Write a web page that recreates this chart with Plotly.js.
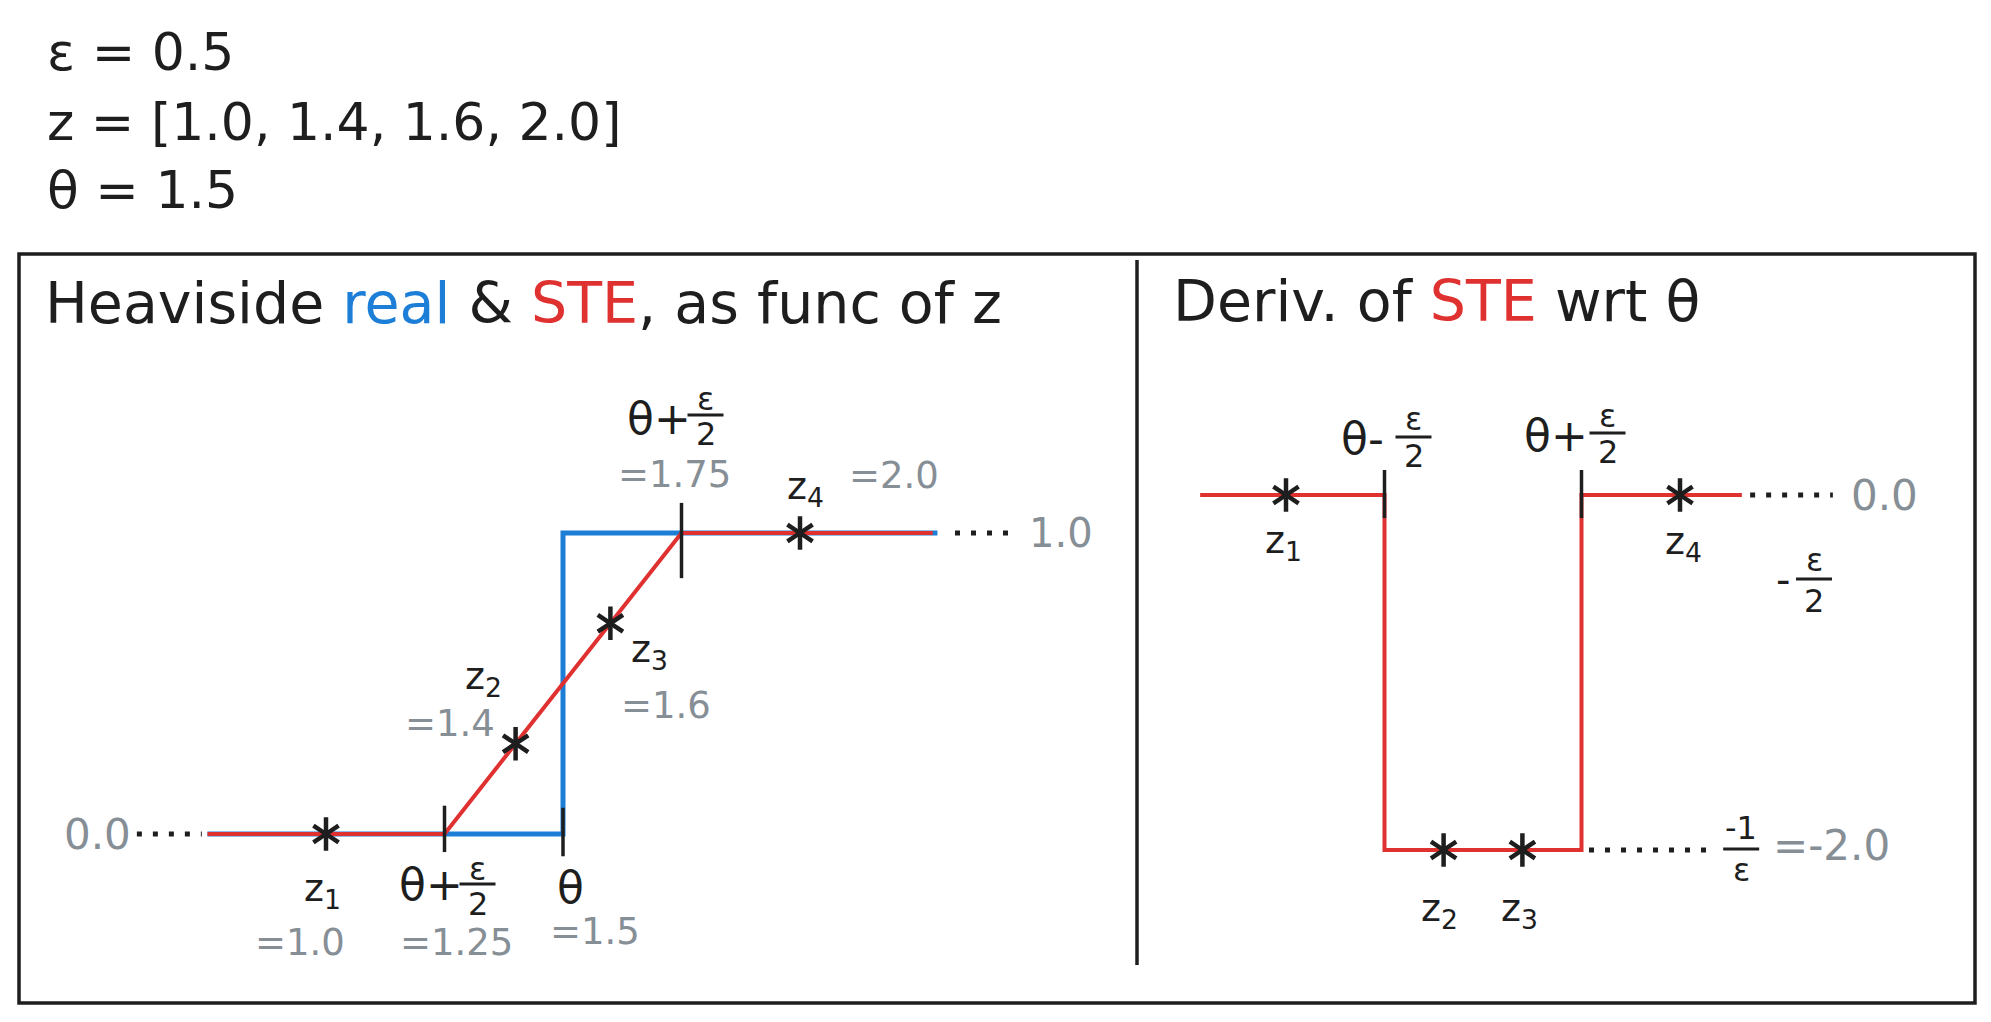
<!DOCTYPE html>
<html><head><meta charset="utf-8">
<script src="https://cdn.plot.ly/plotly-3.0.1.min.js"></script>
<style>html,body{margin:0;padding:0;background:#fff}</style>
</head><body><div id="chart" style="width:1991px;height:1022px"></div>
<script>
// ---------------- data ----------------
const eps = 0.5;
const theta = 1.5;
const zVals = [1.0, 1.4, 1.6, 2.0];
const zNames = ['z<sub>1</sub>', 'z<sub>2</sub>', 'z<sub>3</sub>', 'z<sub>4</sub>'];

// left panel: Heaviside (real) and STE as function of z
const heavX = [0.75, 1.5, 1.5, 2.29];
const heavY = [0, 0, 1, 1];
const steX = [0.75, 1.25, 1.75, 2.28];
const steY = [0, 0, 1, 1];
const steAtZ = [0, 0.3, 0.7, 1.0];
const leftTickX = [1.25, 1.5, 1.75];
const leftTickLo = [-0.06, -0.074, 0.85];
const leftTickHi = [0.094, 0.087, 1.10];
const leftLeadX = [[0.601, 0.738], [2.327, 2.462]];
const leftLeadY = [0, 1];
const leftLevelLabels = ['0.0', '1.0'];

// right panel: derivative of STE wrt theta
const dSteX = [0.782, 1.25, 1.25, 1.75, 1.75, 2.157];
const dSteY = [0, 0, -2, -2, 0, 0];
const dSteAtZ = [0, -2, -2, 0];
const rightTickX = [1.25, 1.75];
const rightTickLo = [-0.13, -0.13];
const rightTickHi = [0.141, 0.141];
const rightLeadX = [[2.178, 2.388], [1.769, 2.069]];
const rightLeadY = [0, -2];
const rightLevelLabels = ['0.0', '=-2.0'];

// ---------------- style / layout ----------------
const W = 1991, H = 1022;
const FONT = '"DejaVu Sans", sans-serif';
const BLACK = '#1e1e1e', GRAY = '#868e96', RED = '#e03131', BLUE = '#1c7ed6';
const LAX = ['x', 'y'], RAX = ['x2', 'y2'];

function xr(dom, pxC, vC, slope) { return [vC + (dom[0] * W - pxC) / slope, vC + (dom[1] * W - pxC) / slope]; }
function yr(py0, slope) { return [(py0 - H) / slope, py0 / slope]; }
const LDOM = [0, 0.57], RDOM = [0.57, 1];

function fmt(v) { return Number.isInteger(Math.round(v * 1000) / 100) ? v.toFixed(1) : v.toFixed(2); }

const traces = [];
function ax(a) { return {xaxis: a[0], yaxis: a[1]}; }
function segTrace(a, xs, lo, hi, color, width) {
  const X = [], Y = [];
  xs.forEach((x, i) => { X.push(x, x, null); Y.push(lo[i], hi[i], null); });
  return Object.assign({x: X, y: Y, mode: 'lines', line: {color, width}, hoverinfo: 'skip'}, ax(a));
}
function leaders(a, xs, ys) {
  const X = [], Y = [];
  xs.forEach((p, i) => { X.push(p[0], p[1], null); Y.push(ys[i], ys[i], null); });
  return Object.assign({x: X, y: Y, mode: 'lines', line: {color: BLACK, width: 5, dash: '5px,11px'}, hoverinfo: 'skip'}, ax(a));
}
function stars(a, xs, ys) {
  return ['y-up-open', 'y-down-open'].map(s => Object.assign({
    x: xs, y: ys, mode: 'markers', hoverinfo: 'skip', cliponaxis: false,
    marker: {symbol: s, size: 21, color: BLACK, line: {color: BLACK, width: 4.5}}
  }, ax(a)));
}

// left
traces.push(Object.assign({x: heavX, y: heavY, mode: 'lines', line: {color: BLUE, width: 5}, hoverinfo: 'skip'}, ax(LAX)));
traces.push(Object.assign({x: steX, y: steY, mode: 'lines', line: {color: RED, width: 4}, hoverinfo: 'skip'}, ax(LAX)));
traces.push(leaders(LAX, leftLeadX, leftLeadY));
traces.push(segTrace(LAX, leftTickX, leftTickLo, leftTickHi, BLACK, 3.5));
traces.push(...stars(LAX, zVals, steAtZ));
// right
traces.push(Object.assign({x: dSteX, y: dSteY, mode: 'lines', line: {color: RED, width: 4}, hoverinfo: 'skip'}, ax(RAX)));
traces.push(leaders(RAX, rightLeadX, rightLeadY));
traces.push(segTrace(RAX, rightTickX, rightTickLo, rightTickHi, BLACK, 3.5));
traces.push(...stars(RAX, zVals, dSteAtZ));

const annotations = [], shapes = [];
function lab(a, x, y, text, dx, dy, size, color, xanchor) {
  annotations.push({xref: a[0], yref: a[1], x, y, text, showarrow: false, xshift: dx, yshift: dy,
    xanchor: xanchor || 'center', yanchor: 'middle', font: {family: FONT, size, color}});
}
function frac(a, x, y, num, den, dx, dyNum, dyBar, dyDen) {
  lab(a, x, y, num, dx, dyNum, 32, BLACK);
  lab(a, x, y, den, dx, dyDen, 32, BLACK);
  shapes.push({type: 'line', xref: a[0], yref: a[1], xsizemode: 'pixel', ysizemode: 'pixel',
    xanchor: x, yanchor: y, x0: dx - 18, x1: dx + 18, y0: dyBar, y1: dyBar, line: {color: BLACK, width: 3}});
}
function paper(text, px, py, size, xanchor) {
  annotations.push({xref: 'paper', yref: 'paper', x: px / W, y: 1 - py / H, text, showarrow: false,
    xanchor: xanchor || 'left', yanchor: 'middle', font: {family: FONT, size, color: BLACK}});
}

// top-left definitions
paper('ε = ' + eps.toFixed(1), 45, 52, 52);
paper('z = [' + zVals.map(v => v.toFixed(1)).join(', ') + ']', 45, 122, 52);
paper('θ = ' + theta.toFixed(1), 45, 190, 52);
// panel titles
paper('Heaviside <span style="color:' + BLUE + '">real</span> &amp; <span style="color:' + RED + '">STE</span>, as func of z', 43, 303, 57);
paper('Deriv. of <span style="color:' + RED + '">STE</span> wrt θ', 1171, 301, 57);

// left panel labels
const lzOff = [[-4, -56], [-32, 65], [39, -28], [5, 45]];
const lvOff = [[-26, -108], [-66, 20], [56, -82], [94, 58]];
zVals.forEach((z, i) => {
  lab(LAX, z, steAtZ[i], zNames[i], lzOff[i][0], lzOff[i][1], 38, BLACK);
  lab(LAX, z, steAtZ[i], '=' + fmt(z), lvOff[i][0], lvOff[i][1], 37, GRAY);
});
// tick at theta - eps/2 (labelled as in the original)
lab(LAX, leftTickX[0], 0, 'θ+', -14, -50, 44, BLACK);
frac(LAX, leftTickX[0], 0, 'ε', '2', 33, -35, -50, -70);
lab(LAX, leftTickX[0], 0, '=' + fmt(leftTickX[0]), 12, -108, 37, GRAY);
// tick at theta
lab(LAX, leftTickX[1], 0, 'θ', 7, -53, 44, BLACK);
lab(LAX, leftTickX[1], 0, '=' + fmt(leftTickX[1]), 32, -97, 37, GRAY);
// tick at theta + eps/2
lab(LAX, leftTickX[2], 1, 'θ+', -23, 115, 44, BLACK);
frac(LAX, leftTickX[2], 1, 'ε', '2', 24, 134, 118, 99);
lab(LAX, leftTickX[2], 1, '=' + fmt(leftTickX[2]), -7, 59, 37, GRAY);
// level labels
lab(LAX, leftLeadX[0][0], leftLeadY[0], leftLevelLabels[0], -4, 0, 42, GRAY, 'right');
lab(LAX, leftLeadX[1][1], leftLeadY[1], leftLevelLabels[1], 8, 0, 40, GRAY, 'left');

// right panel labels
const rzOff = [[-3, -47], [-4, -60], [-3, -60], [3, -48]];
zVals.forEach((z, i) => lab(RAX, z, dSteAtZ[i], zNames[i], rzOff[i][0], rzOff[i][1], 38, BLACK));
lab(RAX, rightTickX[0], 0, 'θ-', -22, 57, 44, BLACK);
frac(RAX, rightTickX[0], 0, 'ε', '2', 29, 76, 58, 39);
lab(RAX, rightTickX[1], 0, 'θ+', -26, 60, 44, BLACK);
frac(RAX, rightTickX[1], 0, 'ε', '2', 26, 79, 62, 43);
// stray "-eps/2" note near z4
lab(RAX, zVals[3], dSteAtZ[3], '-', 103, -85, 40, BLACK);
frac(RAX, zVals[3], dSteAtZ[3], 'ε', '2', 134, -65, -84, -106);
// level labels
lab(RAX, rightLeadX[0][1], rightLeadY[0], rightLevelLabels[0], 16, 0, 42, GRAY, 'left');
frac(RAX, rightLeadX[1][1], rightLeadY[1], '-1', 'ε', 34, 22, 1, -20);
lab(RAX, rightLeadX[1][1], rightLeadY[1], rightLevelLabels[1], 64, 5, 42, GRAY, 'left');

// frame
shapes.push({type: 'rect', xref: 'paper', yref: 'paper', x0: 19 / W, x1: 1975 / W, y0: 1 - 1003 / H, y1: 1 - 254 / H,
  line: {color: BLACK, width: 3.5}, fillcolor: 'rgba(0,0,0,0)'});
shapes.push({type: 'line', xref: 'paper', yref: 'paper', x0: 1137 / W, x1: 1137 / W, y0: 1 - 965 / H, y1: 1 - 260 / H,
  line: {color: BLACK, width: 3.5}});

const hidden = {visible: false, showgrid: false, zeroline: false, fixedrange: true};
const layout = {
  width: W, height: H, margin: {l: 0, r: 0, t: 0, b: 0}, showlegend: false,
  paper_bgcolor: '#ffffff', plot_bgcolor: 'rgba(0,0,0,0)',
  xaxis: Object.assign({domain: LDOM, range: xr(LDOM, 563, 1.5, 474)}, hidden),
  yaxis: Object.assign({domain: [0, 1], range: yr(834, 301)}, hidden),
  xaxis2: Object.assign({domain: RDOM, range: xr(RDOM, 1483, 1.5, 394), anchor: 'y2'}, hidden),
  yaxis2: Object.assign({domain: [0, 1], range: yr(495, 177.5), anchor: 'x2'}, hidden),
  annotations, shapes
};
Plotly.newPlot('chart', traces, layout, {displayModeBar: false, staticPlot: true});
</script></body></html>
